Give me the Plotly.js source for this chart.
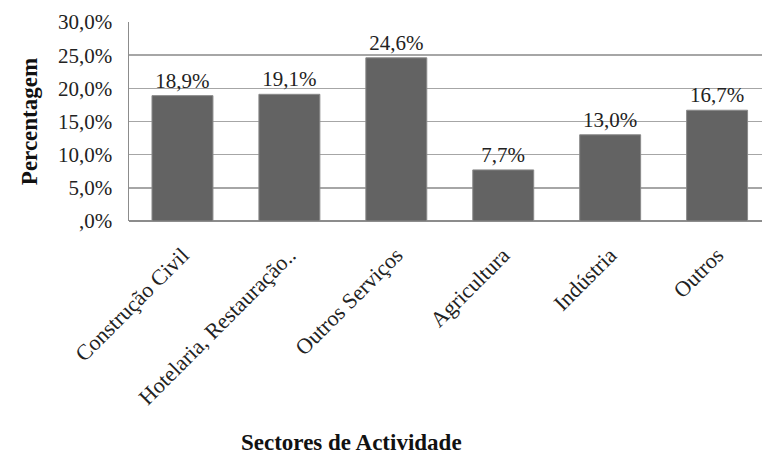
<!DOCTYPE html>
<html>
<head>
<meta charset="utf-8">
<script src="https://cdn.plot.ly/plotly-3.0.1.min.js"></script>
<style>
  html, body { margin: 0; padding: 0; background: #fff; }
  #chart { width: 762px; height: 455px; }
</style>
</head>
<body>
<div id="chart"></div>
<script>
// dados do gráfico
const sectores = ['Construção Civil', 'Hotelaria, Restauração..', 'Outros Serviços', 'Agricultura', 'Indústria', 'Outros'];
const percentagens = [18.9, 19.1, 24.6, 7.7, 13.0, 16.7];
const yTickVals = [0, 5, 10, 15, 20, 25, 30];
const yTickText = [',0%', '5,0%', '10,0%', '15,0%', '20,0%', '25,0%', '30,0%'];

const fmt = v => v.toFixed(1).replace('.', ',') + '%';
const serif = 'Liberation Serif, serif';

const trace = {
    type: 'bar',
    x: sectores,
    y: percentagens,
    text: percentagens.map(fmt),
    textposition: 'outside',
    cliponaxis: false,
    textfont: { family: serif, size: 21, color: '#222' },
    width: 0.57,
    marker: { color: '#636363', line: { color: '#8a8a8a', width: 1 } },
    hoverinfo: 'skip'
};

const layout = {
    width: 762,
    height: 455,
    margin: { l: 129, r: 0, t: 22, b: 234 },
    paper_bgcolor: '#fff',
    plot_bgcolor: '#fff',
    showlegend: false,
    font: { family: serif, size: 21, color: '#222' },
    xaxis: {
        type: 'category',
        range: [-0.5, 5.42],
        tickangle: -45,
        tickfont: { family: serif, size: 22, color: '#222' },
        ticklabelstandoff: 16,
        showline: false,
        ticks: '',
        showgrid: false,
        automargin: false
    },
    yaxis: {
        range: [0, 30],
        tickvals: yTickVals,
        ticktext: yTickText,
        tickfont: { family: serif, size: 21, color: '#222' },
        ticklabelstandoff: 11,
        showgrid: true,
        gridcolor: '#a6a6a6',
        gridwidth: 1.5,
        zeroline: true,
        zerolinecolor: '#8c8c8c',
        zerolinewidth: 2,
        showline: true,
        linecolor: '#8c8c8c',
        linewidth: 1.5,
        ticks: '',
        ticklen: 0,
        automargin: false,
        title: {
            text: '<b>Percentagem</b>',
            font: { family: serif, size: 23, color: '#111' },
            standoff: 14
        }
    },
    // título do eixo x fica à esquerda do centro, como no original
    annotations: [{
        text: '<b>Sectores de Actividade</b>',
        xref: 'paper', yref: 'paper',
        x: 0.351, y: -1.115,
        xanchor: 'center', yanchor: 'middle',
        showarrow: false,
        font: { family: serif, size: 23, color: '#111' }
    }]
};

Plotly.newPlot('chart', [trace], layout, { staticPlot: true, displayModeBar: false });
</script>
</body>
</html>
